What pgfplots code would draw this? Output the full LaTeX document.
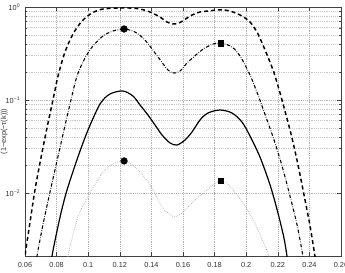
\documentclass[border=0pt]{standalone}
\usepackage{fontspec}
\setmainfont{Liberation Sans}
\usepackage{pgfplots}
\pgfplotsset{compat=1.18}
\begin{document}
\begin{tikzpicture}
\begin{axis}[
 at={(0,0)}, anchor=south west,
 scale only axis, width=237pt, height=186.75pt,
 xmin=0.06, xmax=0.26, ymode=log, ymin=0.0021, ymax=1,
 xtick={0.06,0.08,0.1,0.12,0.14,0.16,0.18,0.2,0.22,0.24,0.26},
 xticklabels={0.06,0.08,0.1,0.12,0.14,0.16,0.18,0.2,0.22,0.24,0.26},
 ytick={0.01,0.1,1},
 yticklabels={10\textsuperscript{−2},10\textsuperscript{−1},10\textsuperscript{0}},
 grid=both,
 major grid style={densely dotted, gray!60, line width=0.4pt},
 minor grid style={densely dotted, gray!45, line width=0.4pt},
 tick align=inside, xtick pos=both, ytick pos=both,
 major tick length=3pt, minor tick length=1.5pt,
 axis line style={black!75, line width=0.5pt},
 tick style={black!75},
 tick label style={font=\fontsize{5.5}{6}\selectfont, text=black!80},
 xticklabel style={yshift=-1pt},
 label style={font=\fontsize{5.5}{6}\selectfont, text=black!80},
 ylabel={(1−exp(−τ(k)))},
 ylabel style={at={(axis description cs:-0.066,0.5)}, anchor=center},
 xlabel={k (μm\textsuperscript{−1})},
 xlabel style={at={(axis description cs:0.49,0)}, anchor=north, yshift=-10pt},
 clip=true,
]
% outer thick dashed
\addplot[black, line width=1.1pt, dash pattern=on 3pt off 2.2pt, smooth, tension=0.5] coordinates {
(0.0581,0.0011) (0.0600,0.0021) (0.0632,0.00488) (0.0663,0.01077) (0.0701,0.0238)
(0.0739,0.0500) (0.0777,0.100) (0.0809,0.181) (0.0853,0.328) (0.0904,0.513)
(0.0961,0.707) (0.1024,0.862) (0.1094,0.952) (0.1201,0.975) (0.1265,0.975)
(0.1328,0.952) (0.1391,0.884) (0.1454,0.781) (0.1499,0.690) (0.1537,0.657)
(0.1575,0.673) (0.1606,0.725) (0.1657,0.820) (0.1708,0.884) (0.1758,0.906)
(0.1815,0.928) (0.1866,0.928) (0.1916,0.884) (0.1973,0.800) (0.2024,0.690)
(0.2068,0.538) (0.2106,0.390) (0.2170,0.210) (0.2214,0.119) (0.2252,0.0690)
(0.2290,0.0390) (0.2328,0.0200) (0.2366,0.00951) (0.2404,0.00442) (0.2435,0.0021)
(0.2454,0.0013)};
% inner dash-dot
\addplot[black, line width=0.8pt, dash pattern=on 2.6pt off 1.2pt on 0.4pt off 1.2pt, smooth, tension=0.5] coordinates {
(0.0660,0.0012) (0.0676,0.0021) (0.0720,0.00513) (0.0771,0.0128) (0.0841,0.0431)
(0.0885,0.0906) (0.0929,0.181) (0.0980,0.283) (0.1030,0.381) (0.1094,0.488)
(0.1157,0.552) (0.1227,0.580) (0.1296,0.538) (0.1359,0.442) (0.1442,0.290)
(0.1505,0.210) (0.1543,0.195) (0.1581,0.205) (0.1632,0.256) (0.1720,0.345)
(0.1790,0.400) (0.1841,0.410) (0.1910,0.371) (0.1961,0.297) (0.2024,0.186)
(0.2075,0.113) (0.2125,0.0656) (0.2176,0.0372) (0.2227,0.0195) (0.2277,0.00929)
(0.2322,0.00453) (0.2359,0.0021) (0.2378,0.0013)};
% solid
\addplot[black, line width=0.9pt, smooth, tension=0.5] coordinates {
(0.0758,0.0012) (0.0771,0.0021) (0.0822,0.00552) (0.0866,0.01077) (0.0935,0.0244)
(0.0999,0.0476) (0.1075,0.0906) (0.1138,0.116) (0.1220,0.125) (0.1284,0.110)
(0.1328,0.0884) (0.1378,0.0690) (0.1423,0.0538) (0.1467,0.0421) (0.1518,0.0345)
(0.1562,0.0328) (0.1613,0.0372) (0.1657,0.0453) (0.1708,0.0610) (0.1758,0.0725)
(0.1834,0.0780) (0.1910,0.0725) (0.1973,0.0580) (0.2024,0.0410) (0.2087,0.0244)
(0.2151,0.0122) (0.2201,0.00610) (0.2239,0.00328) (0.2258,0.0021) (0.2277,0.0012)};
% dotted
\addplot[gray!65, line width=0.6pt, dash pattern=on 0.5pt off 1pt, smooth, tension=0.5] coordinates {
(0.0855,0.0012) (0.0872,0.0021) (0.0935,0.00552) (0.1011,0.0100) (0.1094,0.0168)
(0.1157,0.0205) (0.1227,0.0221) (0.1296,0.0191) (0.1359,0.0145) (0.1404,0.0113)
(0.1467,0.00707) (0.1505,0.0061) (0.1549,0.00552) (0.1594,0.0061) (0.1632,0.00707)
(0.1682,0.0086) (0.1739,0.0103) (0.1790,0.0122) (0.1834,0.0135) (0.1878,0.0128)
(0.1916,0.0108) (0.1980,0.0078) (0.2043,0.00513) (0.2094,0.00337) (0.2144,0.0021)
(0.2163,0.0015)};
% markers
\addplot[only marks, mark=*, mark size=2.5pt, black] coordinates {(0.1227,0.580) (0.1227,0.0221)};
\addplot[only marks, mark=square*, mark size=2.1pt, black] coordinates {(0.1840,0.410) (0.1840,0.0135)};
\end{axis}
\pgfresetboundingbox
\path (-18.75pt,-12pt) rectangle (240pt,192pt);
\end{tikzpicture}
\end{document}
